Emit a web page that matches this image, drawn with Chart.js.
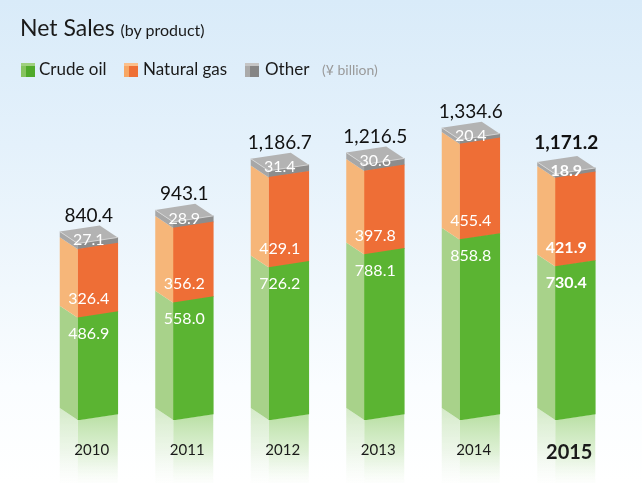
<!DOCTYPE html>
<html>
<head>
<meta charset="utf-8">
<script src="https://cdn.jsdelivr.net/npm/chart.js@4.4.1/dist/chart.umd.min.js"></script>
<style>
html,body{margin:0;padding:0;}
body{width:642px;height:483px;overflow:hidden;position:relative;
  background:linear-gradient(to bottom,#d9ebf9 0%,#e4f1fb 30%,#f1f8fd 60%,#fafdff 80%,#ffffff 100%);
  font-family:Lato,'Open Sans',sans-serif;color:#1a1a1a;}
#c{position:absolute;left:0;top:0;}
#title{position:absolute;left:20px;top:13px;font-size:23px;white-space:nowrap;}
#title span{font-size:16px;}
.lg{position:absolute;top:58px;font-size:17px;white-space:nowrap;}
.ic{position:absolute;top:63px;width:14px;height:14px;}
#unit{position:absolute;left:322px;top:61px;font-size:14px;color:#9a9a9a;}
</style>
</head>
<body>
<canvas id="c" width="642" height="483"></canvas>
<div id="title">Net Sales <span>(by product)</span></div>
<div class="ic" style="left:21px;background:linear-gradient(to bottom,#9fd07f 0,#9fd07f 3px,transparent 3px),linear-gradient(to right,#86c35f 0,#86c35f 5px,#4fa92a 5px);"></div>
<div class="lg" style="left:39px;">Crude oil</div>
<div class="ic" style="left:124px;background:linear-gradient(to bottom,#fbc08c 0,#fbc08c 3px,transparent 3px),linear-gradient(to right,#f7a765 0,#f7a765 5px,#ee6f35 5px);"></div>
<div class="lg" style="left:143px;">Natural gas</div>
<div class="ic" style="left:245px;background:linear-gradient(to bottom,#c5c5c5 0,#c5c5c5 3px,transparent 3px),linear-gradient(to right,#aaaaaa 0,#aaaaaa 5px,#858585 5px);"></div>
<div class="lg" style="left:265px;">Other</div>
<div id="unit">(¥ billion)</div>
<script>
// ---- data ----
const years = ['2010', '2011', '2012', '2013', '2014', '2015'];
const crudeOil = [486.9, 558.0, 726.2, 788.1, 858.8, 730.4];
const naturalGas = [326.4, 356.2, 429.1, 397.8, 455.4, 421.9];
const other = [27.1, 28.9, 31.4, 30.6, 20.4, 18.9];
const totals = [840.4, 943.1, 1186.7, 1216.5, 1334.6, 1171.2];

// ---- 3D geometry ----
const DX = -18, DY = -12, K = -0.152;
const FONT = 'Lato, "Open Sans", sans-serif';

function poly(ctx, pts, fill) {
  ctx.beginPath();
  ctx.moveTo(pts[0][0], pts[0][1]);
  for (let i = 1; i < pts.length; i++) ctx.lineTo(pts[i][0], pts[i][1]);
  ctx.closePath();
  ctx.fillStyle = fill;
  ctx.fill();
}

const bar3d = {
  id: 'bar3d',
  beforeDraw(chart) {
    const ctx = chart.ctx;
    const H = chart.height;
    const meta0 = chart.getDatasetMeta(0);
    // reflections below the bars (drawn before the axis labels)
    meta0.data.forEach(el => {
      const w = el.width, x0 = el.x - w / 2, yb = el.base;
      const g1 = ctx.createLinearGradient(0, yb - 6, 0, H);
      g1.addColorStop(0, 'rgba(168,215,140,0.8)');
      g1.addColorStop(0.55, 'rgba(190,226,170,0.5)');
      g1.addColorStop(1, 'rgba(220,240,210,0.05)');
      poly(ctx, [[x0, yb], [x0 + w, yb + K * w], [x0 + w, H], [x0, H]], g1);
      const g2 = ctx.createLinearGradient(0, yb + DY, 0, H);
      g2.addColorStop(0, 'rgba(205,230,190,0.85)');
      g2.addColorStop(0.55, 'rgba(220,238,210,0.5)');
      g2.addColorStop(1, 'rgba(235,245,230,0.05)');
      poly(ctx, [[x0 + DX, yb + DY], [x0, yb], [x0, H], [x0 + DX, H]], g2);
    });
  },
  beforeDatasetsDraw(chart) {
    // skew the front faces
    chart.data.datasets.forEach((ds, i) => {
      chart.getDatasetMeta(i).data.forEach(el => {
        if (!el._skewed) {
          const orig = el.draw;
          el.draw = function (c) {
            const x0 = this.x - this.width / 2;
            c.save();
            c.translate(x0, 0);
            c.transform(1, K, 0, 1, 0, 0);
            c.translate(-x0, 0);
            orig.call(this, c);
            c.restore();
          };
          el._skewed = true;
        }
      });
    });
  },
  afterDatasetsDraw(chart) {
    const ctx = chart.ctx;
    const n = chart.data.datasets.length;
    chart.data.datasets.forEach((ds, i) => {
      chart.getDatasetMeta(i).data.forEach(el => {
        const w = el.width, x0 = el.x - w / 2;
        const top = el.y, base = el.base;
        poly(ctx, [[x0, base], [x0, top], [x0 + DX, top + DY], [x0 + DX, base + DY]], ds.sideColor);
        if (i === n - 1) {
          poly(ctx, [[x0, top], [x0 + w, top + K * w], [x0 + w + DX, top + K * w + DY], [x0 + DX, top + DY]], ds.capColor);
          ctx.beginPath();
          ctx.moveTo(x0 + DX, top + DY);
          ctx.lineTo(x0, top);
          ctx.lineTo(x0 + w, top + K * w);
          ctx.strokeStyle = 'rgba(215,215,215,0.9)';
          ctx.lineWidth = 1;
          ctx.stroke();
        }
      });
    });
    // labels
    ctx.save();
    ctx.textAlign = 'center';
    ctx.textBaseline = 'middle';
    const last = years.length - 1;
    const m0 = chart.getDatasetMeta(0).data;
    const m2 = chart.getDatasetMeta(2).data;
    for (let j = 0; j < years.length; j++) {
      const w = m0[j].width, x0 = m0[j].x - w / 2;
      const cx = x0 + (w + DX) / 2;
      const bold = j === last ? 'bold ' : '';
      ctx.fillStyle = '#ffffff';
      ctx.font = bold + '16px ' + FONT;
      ctx.fillText(crudeOil[j].toFixed(1), cx, m0[j].y + 16);
      ctx.fillText(naturalGas[j].toFixed(1), cx, m0[j].y - 18.5);
      ctx.fillText(other[j].toFixed(1), cx, m2[j].y - 3.5);
      ctx.fillStyle = '#111111';
      ctx.font = bold + '19px ' + FONT;
      const t = totals[j].toLocaleString('en-US', {minimumFractionDigits: 1, maximumFractionDigits: 1});
      ctx.fillText(t, cx, m2[j].y - (j === last ? 31 : 28));
    }
    ctx.restore();
  }
};

new Chart(document.getElementById('c'), {
  type: 'bar',
  data: {
    labels: years,
    datasets: [
      {label: 'Crude oil', data: crudeOil, backgroundColor: '#5bb432', sideColor: '#a8d28a'},
      {label: 'Natural gas', data: naturalGas, backgroundColor: '#ee6e36', sideColor: '#f6b679'},
      {label: 'Other', data: other, backgroundColor: '#8d8d8d', sideColor: '#a7a7a7', capColor: '#b3b3b3'}
    ]
  },
  options: {
    responsive: false,
    animation: false,
    devicePixelRatio: 1,
    layout: {padding: {left: 50, right: 19, top: 105, bottom: 0}},
    datasets: {bar: {barThickness: 40, borderWidth: 0}},
    plugins: {legend: {display: false}, tooltip: {enabled: false}},
    scales: {
      x: {
        stacked: true,
        grid: {display: false, drawTicks: false},
        border: {display: false},
        ticks: {
          padding: 21,
          labelOffset: -6,
          color: '#1a1a1a',
          font: (c) => c.index === 5 ? {family: FONT, size: 20, weight: 'bold'} : {family: FONT, size: 15}
        },
        afterFit: (s) => { s.height = 63; }
      },
      y: {stacked: true, display: false, min: 0, max: 1500}
    }
  },
  plugins: [bar3d]
});
</script>
</body>
</html>
